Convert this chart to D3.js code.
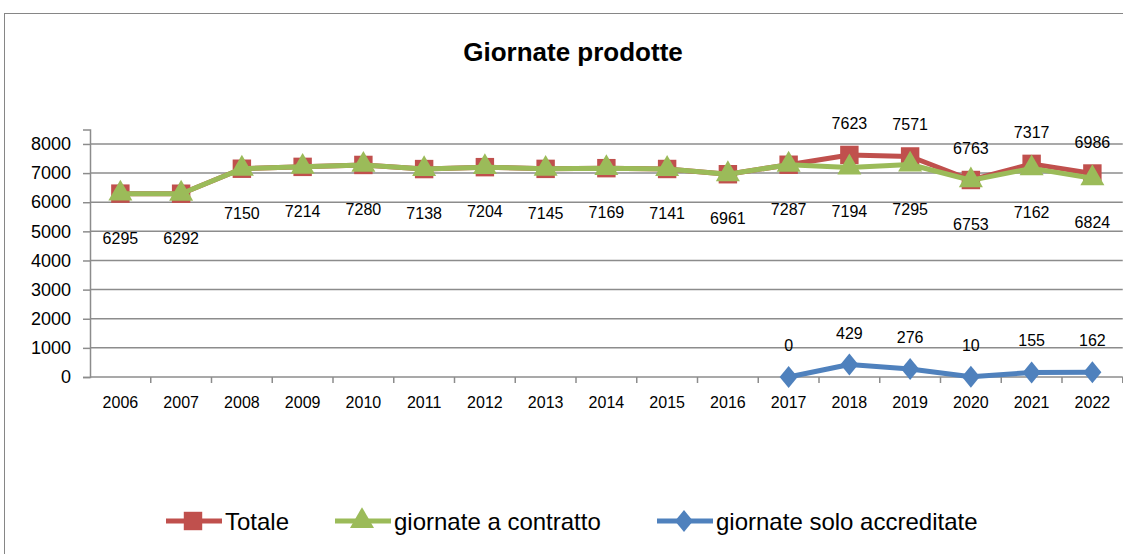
<!DOCTYPE html>
<html>
<head>
<meta charset="utf-8">
<script src="https://cdn.jsdelivr.net/npm/d3@7"></script>
<style>
  body { margin: 0; background: #fff; }
  text { font-family: "Liberation Sans", Arial, sans-serif; fill: #000; }
</style>
</head>
<body>
<div id="chart"></div>
<script>
// chart data
var years = ["2006", "2007", "2008", "2009", "2010", "2011", "2012", "2013", "2014",
             "2015", "2016", "2017", "2018", "2019", "2020", "2021", "2022"];
var totale = [6295, 6292, 7150, 7214, 7280, 7138, 7204, 7145, 7169,
              7141, 6961, 7287, 7623, 7571, 6763, 7317, 6986];
var contratto = [6295, 6292, 7150, 7214, 7280, 7138, 7204, 7145, 7169,
                 7141, 6961, 7287, 7194, 7295, 6753, 7162, 6824];
var accreditate = [null, null, null, null, null, null, null, null, null,
                   null, null, 0, 429, 276, 10, 155, 162];
var yTicks = [0, 1000, 2000, 3000, 4000, 5000, 6000, 7000, 8000];
var seriesNames = ["Totale", "giornate a contratto", "giornate solo accreditate"];

var W = 1123, H = 554;
var plot = { left: 90, right: 1122.75, top: 129.4, bottom: 377 };

var svg = d3.select("#chart").append("svg")
    .attr("width", W)
    .attr("height", H);

// outer chart border
svg.append("rect")
    .attr("x", 4.5).attr("y", 13.5)
    .attr("width", 1130).attr("height", 560)
    .attr("fill", "#fff")
    .attr("stroke", "#868686")
    .attr("stroke-width", 1);

svg.append("text")
    .attr("x", 573).attr("y", 61)
    .attr("text-anchor", "middle")
    .style("font-size", "26px")
    .style("font-weight", "bold")
    .text("Giornate prodotte");

var x = d3.scaleBand().domain(years).range([plot.left, plot.right]).padding(0);
var y = d3.scaleLinear().domain([0, 8500]).range([plot.bottom, plot.top]);
var cx = function (yr) { return x(yr) + x.bandwidth() / 2; };

var gridColor = "#8c8c8c";

// horizontal gridlines
svg.append("g")
    .selectAll("line")
    .data(yTicks.filter(function (d) { return d > 0; }))
    .enter().append("line")
    .attr("x1", plot.left).attr("x2", plot.right)
    .attr("y1", function (d) { return y(d); })
    .attr("y2", function (d) { return y(d); })
    .attr("stroke", gridColor)
    .attr("stroke-width", 1.5);

// y axis
var yAxis = d3.axisLeft(y).tickValues(yTicks).tickFormat(d3.format("d")).tickSize(7).tickPadding(12);
var gy = svg.append("g")
    .attr("transform", "translate(" + plot.left + ",0)")
    .call(yAxis);
gy.select(".domain").attr("stroke", gridColor).attr("stroke-width", 1.5);
gy.selectAll(".tick line").attr("stroke", gridColor).attr("stroke-width", 1.5);
gy.selectAll(".tick text").style("font-size", "18px").attr("fill", "#000");

// x axis with ticks between categories
var gx = svg.append("g")
    .attr("transform", "translate(0," + plot.bottom + ")");
gx.append("line")
    .attr("x1", plot.left).attr("x2", plot.right)
    .attr("stroke", gridColor).attr("stroke-width", 1.5);
gx.selectAll(".xtick")
    .data(years)
    .enter().append("line")
    .attr("class", "xtick")
    .attr("x1", function (d) { return x(d) + x.bandwidth(); })
    .attr("x2", function (d) { return x(d) + x.bandwidth(); })
    .attr("y1", 0).attr("y2", 6)
    .attr("stroke", gridColor).attr("stroke-width", 1.5);
gx.selectAll(".xlabel")
    .data(years)
    .enter().append("text")
    .attr("class", "xlabel")
    .attr("x", function (d) { return cx(d); })
    .attr("y", 31)
    .attr("text-anchor", "middle")
    .style("font-size", "16px")
    .text(function (d) { return d; });

var colors = { tot: "#C0504D", con: "#9BBB59", acc: "#4F81BD" };

function toPoints(vals) {
    return vals.map(function (v, i) { return { year: years[i], value: v }; });
}

var line = d3.line()
    .defined(function (d) { return d.value !== null; })
    .x(function (d) { return cx(d.year); })
    .y(function (d) { return y(d.value); });

var square = d3.symbol().type(d3.symbolSquare).size(340);
var triangle = d3.symbol().type(d3.symbolTriangle).size(250);
var diamondPath = "M0,-11L9,0L0,11L-9,0Z";

function drawSeries(vals, color, markerPath) {
    var pts = toPoints(vals).filter(function (d) { return d.value !== null; });
    svg.append("path")
        .datum(pts)
        .attr("fill", "none")
        .attr("stroke", color)
        .attr("stroke-width", 5)
        .attr("stroke-linejoin", "round")
        .attr("d", line);
    svg.append("g")
        .selectAll("path")
        .data(pts)
        .enter().append("path")
        .attr("transform", function (d) { return "translate(" + cx(d.year) + "," + y(d.value) + ")"; })
        .attr("d", markerPath)
        .attr("fill", color);
}

drawSeries(totale, colors.tot, square());
drawSeries(contratto, colors.con, triangle());
drawSeries(accreditate, colors.acc, diamondPath);

// data labels
function labels(vals, dy, keep) {
    svg.append("g")
        .selectAll("text")
        .data(toPoints(vals).filter(keep))
        .enter().append("text")
        .attr("x", function (d) { return cx(d.year); })
        .attr("y", function (d) { return y(d.value) + dy; })
        .attr("text-anchor", "middle")
        .style("font-size", "16px")
        .text(function (d) { return d.value; });
}

labels(contratto, 50, function () { return true; });
labels(totale, -26, function (d, i) { return d.value !== contratto[i]; });
labels(accreditate, -26, function (d) { return d.value !== null; });

// legend
var legendY = 521;
var legendItems = [
    { name: seriesNames[0], color: colors.tot, marker: square(), x1: 166 },
    { name: seriesNames[1], color: colors.con, marker: triangle(), x1: 335 },
    { name: seriesNames[2], color: colors.acc, marker: diamondPath, x1: 657 }
];
var lg = svg.append("g").selectAll("g")
    .data(legendItems)
    .enter().append("g")
    .attr("transform", function (d) { return "translate(" + d.x1 + "," + legendY + ")"; });
lg.append("line")
    .attr("x1", 0).attr("x2", 56)
    .attr("stroke", function (d) { return d.color; })
    .attr("stroke-width", 5);
lg.append("path")
    .attr("transform", "translate(27,0)")
    .attr("d", function (d) { return d.marker; })
    .attr("fill", function (d) { return d.color; });
lg.append("text")
    .attr("x", 59)
    .attr("y", 9)
    .style("font-size", "24px")
    .text(function (d) { return d.name; });
</script>
</body>
</html>
